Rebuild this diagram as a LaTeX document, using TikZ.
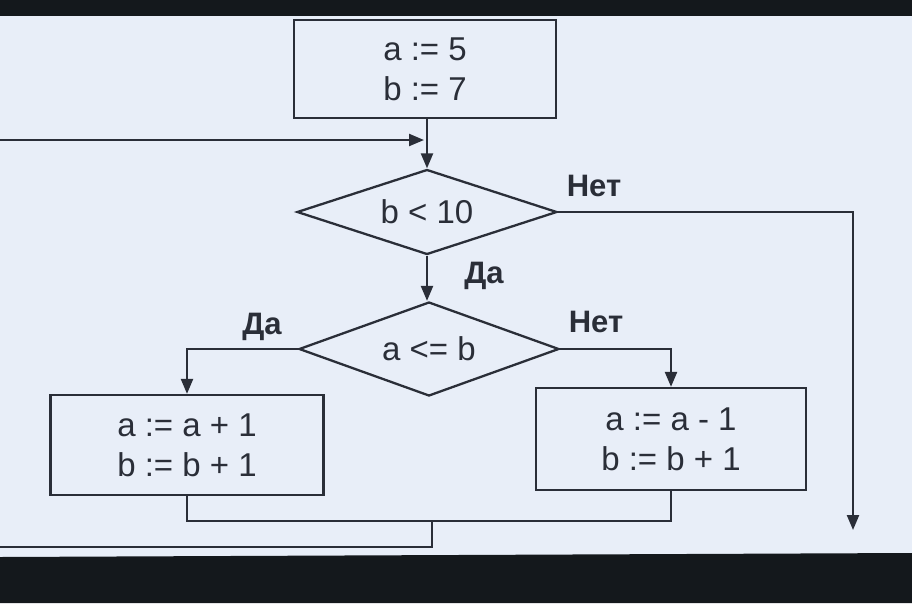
\documentclass[tikz,border=0pt]{standalone}
\usepackage{fontspec}
\setmainfont{Liberation Sans}
\usetikzlibrary{shapes.geometric,arrows.meta}
\definecolor{paper}{HTML}{E8EEF8}
\definecolor{ink}{HTML}{2A2E38}
\definecolor{darkframe}{HTML}{14181C}
\tikzset{
  procbox/.style={draw=ink,rectangle,inner sep=0pt,align=center,
    font=\fontsize{33}{40}\selectfont,text=ink},
  decision/.style={draw=ink,diamond,aspect=3,inner sep=0pt,
    font=\fontsize{33}{36}\selectfont,text=ink},
  lbl/.style={font=\fontsize{31}{32}\selectfont\bfseries,text=ink,inner sep=0pt},
  arr/.style={-{Triangle[length=15pt,width=12pt]}},
}
\begin{document}
\begin{tikzpicture}[x=1pt,y=-1pt,line width=2.3pt,draw=ink]
\useasboundingbox (0,0) rectangle (912,603);
\fill[paper] (0,0) rectangle (912,603);
\fill[darkframe] (0,0) rectangle (912,16);
\fill[darkframe] (0,557) -- (912,553) -- (912,603) -- (0,603) -- cycle;

\node[procbox,minimum width=262pt,minimum height=98pt] (init) at (425,69) {a := 5\\b := 7};
\node[decision,minimum width=260pt,minimum height=85pt] (d1) at (427,212) {b < 10};
\node[decision,minimum width=260pt,minimum height=94pt] (d2) at (429,349) {a <= b};
\node[procbox,minimum width=273pt,minimum height=100pt] (lb) at (187,445) {a := a + 1\\b := b + 1};
\node[procbox,minimum width=270pt,minimum height=102pt] (rb) at (671,439) {a := a - 1\\b := b + 1};

\node[lbl] (no1) at (594,186) {Нет};
\node[lbl] (yes1) at (484,276) {Да};
\node[lbl] (yes2) at (262,327) {Да};
\node[lbl] (no2) at (596,322) {Нет};

\coordinate (exit) at (853,530);
\coordinate (merge) at (432,521);
\coordinate (loopA) at (432,547);
\coordinate (loopB) at (0,547);
\coordinate (loopC) at (0,140);
\coordinate (loopD) at (424,140);

\draw[arr] (init.south -| d1.north) -- (d1.north);
\draw[arr] (d1.south) -- (d1.south |- d2.north);
\draw[arr] (d1.east) -| (exit);
\draw[arr] (d2.west) -| (lb.north);
\draw[arr] (d2.east) -| (rb.north);
\draw (lb.south) |- (merge) -| (rb.south);
\draw (merge) -- (loopA) -- (loopB);
\draw[arr] (loopC) -- (loopD);
\end{tikzpicture}
\end{document}
